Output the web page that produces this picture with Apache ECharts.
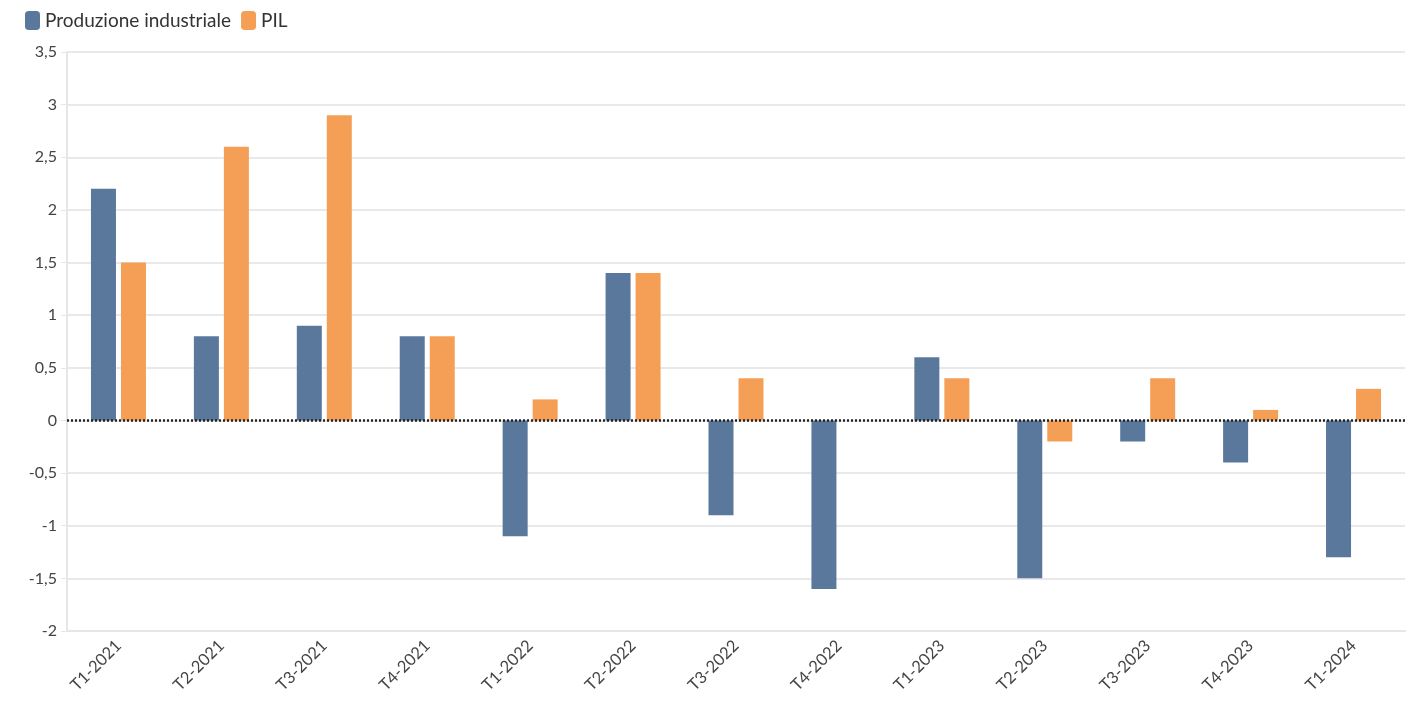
<!DOCTYPE html>
<html>
<head>
<meta charset="utf-8">
<script src="https://cdn.jsdelivr.net/npm/echarts@6/dist/echarts.min.js"></script>
<style>
  html, body { margin: 0; padding: 0; background: #fff; }
  #chart { width: 1411px; height: 703px; }
</style>
</head>
<body>
<div id="chart"></div>
<script>
var categories = ['T1-2021', 'T2-2021', 'T3-2021', 'T4-2021', 'T1-2022', 'T2-2022', 'T3-2022',
    'T4-2022', 'T1-2023', 'T2-2023', 'T3-2023', 'T4-2023', 'T1-2024'];
var produzione = [2.2, 0.8, 0.9, 0.8, -1.1, 1.4, -0.9, -1.6, 0.6, -1.5, -0.2, -0.4, -1.3];
var pil = [1.5, 2.6, 2.9, 0.8, 0.2, 1.4, 0.4, 0, 0.4, -0.2, 0.4, 0.1, 0.3];

var font = 'Lato, "Noto Sans", sans-serif';
var chart = echarts.init(document.getElementById('chart'));

// etichette con la virgola decimale
var fmt = function (v) {
    return String(v).replace('.', ',');
};

chart.setOption({
    animation: false,
    textStyle: { fontFamily: font },
    legend: {
        left: 20,
        top: 6,
        itemWidth: 15,
        itemHeight: 19,
        itemGap: 10,
        icon: 'roundRect',
        textStyle: { fontSize: 19, color: '#333', fontFamily: font },
        data: ['Produzione industriale', 'PIL']
    },
    grid: { left: 67, right: 6, top: 52, bottom: 72 },
    xAxis: {
        type: 'category',
        data: categories,
        axisLine: { onZero: false, lineStyle: { color: '#e6e6e6', width: 2 } },
        axisTick: { alignWithLabel: true, lineStyle: { color: '#e6e6e6' }, length: 6 },
        axisLabel: { rotate: 45, color: '#444', fontSize: 16.5, margin: 12, fontFamily: font }
    },
    yAxis: {
        type: 'value',
        min: -2,
        max: 3.5,
        interval: 0.5,
        axisLine: { show: true, lineStyle: { color: '#e6e6e6', width: 2 } },
        axisTick: { show: true, length: 6, lineStyle: { color: '#e6e6e6' } },
        splitLine: { lineStyle: { color: '#e9e9e9', width: 2 } },
        axisLabel: { color: '#444', fontSize: 16, margin: 10, formatter: fmt, fontFamily: font }
    },
    series: [
        {
            name: 'Produzione industriale',
            type: 'bar',
            data: produzione,
            barWidth: 25,
            barGap: '20%',
            itemStyle: { color: '#5a779c' },
            markLine: {
                symbol: 'none',
                silent: true,
                label: { show: false },
                lineStyle: { color: '#222', type: [2, 2], width: 2.5 },
                data: [{ yAxis: 0 }]
            }
        },
        {
            name: 'PIL',
            type: 'bar',
            data: pil,
            barWidth: 25,
            barGap: '20%',
            itemStyle: { color: '#f59f56' }
        }
    ]
});
</script>
</body>
</html>
